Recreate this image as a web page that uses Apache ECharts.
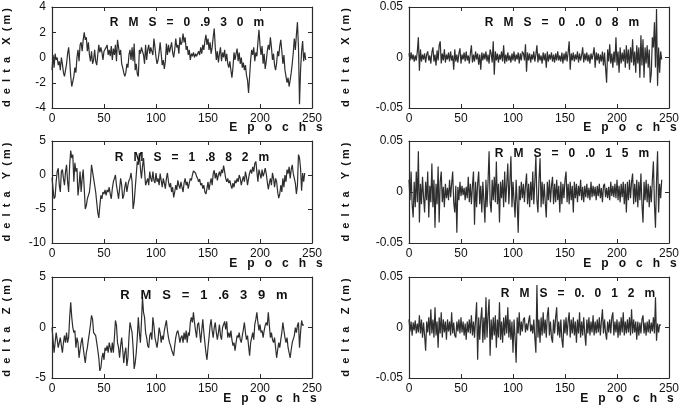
<!DOCTYPE html>
<html>
<head>
<meta charset="utf-8">
<script src="https://cdn.jsdelivr.net/npm/echarts@6/dist/echarts.min.js"></script>
<style>
html,body{margin:0;padding:0;background:#fff;}
#chart{width:684px;height:408px;}
</style>
</head>
<body>
<div id="chart"></div>
<script>
// ---- data, x = epoch index ----
const xTicks = [0, 50, 100, 150, 200, 250];

const dxLeft = [-1.0,0.2,-0.8,0.3,-0.2,0,-0.6,-0.3,-1.0,0,
-0.5,-1.2,-1.5,-1.4,-0.5,0.3,0.8,-0.2,-1.5,-2.3,
-2.2,-1.5,-0.8,-1.2,0,0.6,-0.3,1.0,1.2,0.5,
1.4,2.0,1.4,1.6,0.5,1.2,0.2,-0.3,0.5,-0.5,
-0.2,0.6,-0.3,-0.6,0.2,1.0,0.4,0.8,0.4,-0.2,
0.5,0.4,0.8,1.0,0.2,0.6,0.1,0.9,-0.2,0.7,
0.2,1.0,-0.3,1.4,0.8,0.2,0.6,-0.5,-0.8,-1.2,
-1.5,-1.2,-0.5,-0.8,0.2,0.6,-0.2,0.8,-0.3,1.1,
-1.0,-0.5,-1.3,-1.5,0.6,0.3,0.8,0.5,0.2,-0.5,
1.0,-0.2,0.6,1.0,0.3,0.8,0.5,0.2,1.5,0.8,
0.0,-0.5,-0.2,0.4,1.2,0.3,-0.6,-0.2,-0.9,-0.3,
1.1,0.2,1.0,0.4,0.8,1.2,0.4,0.0,0.6,1.5,
0.8,1.0,0.3,1.6,1.0,1.2,1.9,1.2,1.6,0.6,
0.9,0.2,0.6,-0.2,0.3,0.1,0.4,0.0,0.3,0.1,
0.2,0.5,0.2,0.8,0.3,1.0,0.6,1.3,1.8,1.0,
1.5,0.6,1.2,0.3,0.8,1.6,2.3,0.8,-0.2,0.5,
-0.4,0.3,0.8,-0.3,0.4,0.0,0.6,-0.3,0.3,-0.5,
-0.8,-0.3,-1.0,-1.6,-0.8,0.4,-0.2,0.3,0.7,-0.3,
0.4,-0.5,0.0,-0.8,-0.4,-1.0,-0.6,-1.4,-1.8,-2.8,
-1.5,-0.2,0.6,0.2,0.8,-0.3,0.4,0.1,1.2,2.2,
1.0,0.2,0.9,-0.5,0.3,-0.9,-0.3,0.5,1.0,0.6,
1.6,0.8,-0.2,0.3,-0.6,-1.0,-0.4,0.5,0.1,0.9,
1.4,0.5,-0.5,0.2,-1.0,-1.5,-2.0,-1.6,-2.3,-1.8,
-1.2,-0.5,0.4,1.5,0.6,1.8,2.8,0.8,-3.7,-1.0,
0.5,1.3,-0.3,0.4,-0.2];

const dxRight = [0.004,-0.003,0.005,-0.002,0.003,-0.004,0.002,-0.003,0.006,0.020,
-0.013,0.008,-0.004,0.003,-0.002,0.004,-0.005,0.003,0.006,-0.003,
0.002,-0.006,0.005,0.010,-0.004,0.003,-0.008,0.007,-0.003,0.012,
0.016,-0.006,0.004,-0.003,0.008,-0.005,0.003,-0.002,0.005,-0.004,
0.006,-0.003,0.002,-0.012,0.008,-0.004,0.003,-0.005,0.004,0.009,
-0.006,0.003,-0.002,0.005,-0.004,0.006,-0.003,0.002,-0.006,0.004,
0.012,-0.005,0.003,-0.004,0.006,-0.002,0.004,-0.007,0.003,-0.012,
0.005,-0.003,0.004,-0.002,0.006,-0.004,0.003,-0.006,0.008,0.004,
-0.005,0.016,-0.017,0.006,-0.003,0.004,-0.005,0.003,-0.002,0.006,
-0.004,0.012,-0.006,0.003,-0.004,0.005,-0.003,0.002,-0.005,0.004,
-0.003,0.006,-0.004,0.003,-0.002,0.005,-0.006,0.004,-0.003,0.006,
0.004,-0.003,0.013,-0.014,0.005,-0.003,0.004,-0.005,0.003,-0.002,
0.006,-0.004,0.003,0.012,-0.005,0.004,-0.003,0.002,-0.006,0.005,
-0.003,0.004,-0.010,0.006,-0.004,0.003,-0.002,0.005,-0.004,0.003,
-0.005,0.004,-0.003,0.006,-0.003,0.002,-0.004,0.005,-0.006,0.004,
-0.003,0.006,-0.004,0.005,0.016,-0.012,0.004,-0.003,0.005,-0.004,
0.003,-0.002,0.006,-0.005,0.004,-0.003,0.002,0.010,-0.005,0.004,
-0.003,0.005,-0.004,0.003,-0.006,0.004,-0.002,0.003,0.010,-0.010,
0.005,-0.003,0.004,-0.006,0.003,-0.004,0.006,-0.008,0.005,-0.010,
-0.025,0.008,-0.004,0.013,-0.006,0.004,-0.010,0.006,-0.005,0.020,
-0.008,0.006,-0.015,0.010,-0.006,0.005,-0.004,0.008,-0.010,0.012,
-0.006,0.008,-0.012,0.010,-0.005,0.018,-0.008,0.006,-0.015,0.012,
-0.006,0.010,-0.020,0.022,-0.008,0.018,-0.020,0.010,-0.006,0.012,
-0.010,0.008,-0.025,-0.015,0.020,0.010,0.035,-0.010,0.048,-0.028,
0.010,-0.015,0.006,-0.002];

const dyLeft = [-0.4,-2,-3.5,-3.2,-1,0.5,1.0,-1.5,-2.5,0.5,
0.8,-0.5,-1.5,0.5,1.5,-1,-2.5,1.5,3.6,2.5,
3.0,-1,1.8,0.5,1.0,-3,-1.5,0.5,-2.5,-0.5,
0.8,-2,-5,-4.5,-3.5,-3,-2.5,-1,1.5,0.5,
-0.5,-1.5,-2.5,-4,-5.5,-6.3,-4.5,-3,-3.5,-2.5,
-2.8,-2.2,-3,-2.2,-2.5,-1.8,-2.8,-3.5,-2,-1,
-0.5,0,-1.5,-2.5,-3.5,-2,-0.5,-1.5,-3.5,-3,
-1.8,-1,-2.5,-1.5,-0.8,-0.5,0.3,-1,-5,-4,
-2,0,2,1.5,3.2,1.0,-0.5,1.2,2.5,0.5,
-1.5,-1,-0.5,-1.5,0.5,-0.5,-1,0.5,-0.8,-1.2,
0.3,-1,-0.5,-1.5,0.2,-0.8,-1.8,-0.5,-1.2,-2,
-0.5,0.3,-1,-1.8,-1.2,-2.5,-1.8,-3.3,-2.5,-1.5,
-2.2,-0.8,-1.5,-2,-1,-1.8,-2.5,-1.2,-0.5,-1.5,
-1,-2,-1.2,-0.5,-0.8,0,0.6,0.5,0.3,-0.2,
-0.5,-1,-0.6,-1.5,-1.2,-2,-1.5,-2.5,-2.8,-2,
-1,-2.2,-1.2,-0.5,-1.5,0.2,0.7,-0.5,0.3,-0.8,
0,0.5,-0.2,0.8,0.3,1.4,0.5,-0.5,-1,-0.5,
-1.2,-0.8,-1.5,-2,-1.2,-1.8,-0.8,-1.2,-0.5,-1,
0,-0.5,-1.5,-0.8,-0.2,-1,0.5,-0.3,-1.5,-0.5,
0.3,0.8,0.2,1.2,0.5,1.7,2.0,0.5,-1,0.8,
1.0,-0.5,0.8,-0.2,0.3,1,0.2,-1,-2.1,-1.2,
-0.5,-1.5,0.3,-0.5,-1.8,-0.5,-1,-2.5,-3.4,-2.8,
-1.5,-2.5,-0.5,-1.8,0,-1,0.8,0.2,1.2,-0.5,
0.8,1.5,0.2,-0.5,-1.2,-2.8,-1.5,3.0,2.5,1.0,
-2.3,0.3,-1.0,0.3];

const dyRight = [0.012,-0.008,0.020,-0.012,-0.025,0.010,-0.015,0.020,-0.010,0.040,
-0.030,0.008,-0.012,0.015,-0.005,-0.020,0.010,-0.008,0.020,-0.025,
0.006,-0.010,0.028,-0.015,0.012,-0.035,0.008,-0.012,0.025,-0.030,
0.010,0.020,-0.010,0.005,-0.015,0.008,-0.006,0.004,-0.008,0.012,
-0.005,0.008,0.020,-0.010,-0.020,0.006,-0.040,0.005,-0.008,0.010,
-0.004,0.006,-0.003,0.004,-0.008,0.005,-0.006,0.015,-0.010,0.008,
-0.012,0.006,0.020,-0.032,0.010,-0.015,0.008,0.020,-0.012,0.006,
-0.020,0.010,-0.008,-0.030,0.012,-0.015,0.010,0.040,-0.010,-0.020,
0.012,-0.008,0.015,-0.010,0.030,-0.012,0.008,-0.030,0.010,-0.006,
0.012,-0.015,0.020,-0.010,0.008,0.028,-0.012,0.010,0.035,-0.015,
0.010,-0.008,-0.025,0.012,-0.010,-0.040,0.006,-0.008,0.010,-0.006,
0.008,-0.010,0.006,0.018,-0.012,0.008,-0.015,0.010,-0.008,0.020,
-0.012,0.010,0.035,-0.008,-0.020,0.012,0.033,-0.015,0.010,-0.012,
0.008,-0.010,-0.025,0.010,-0.008,0.012,-0.010,0.006,0.015,-0.012,
0.008,-0.010,0.012,-0.008,0.006,-0.020,0.010,-0.012,0.008,-0.006,
0.012,0.020,-0.010,0.008,-0.012,0.010,-0.008,0.006,-0.020,0.010,
-0.006,0.008,-0.010,0.006,-0.004,0.012,-0.008,0.005,-0.010,0.006,
-0.005,0.008,-0.006,0.004,-0.008,0.010,-0.005,0.006,-0.004,0.005,
-0.008,0.006,-0.004,0.008,-0.006,0.004,-0.010,0.006,0.008,-0.005,
0.004,-0.006,0.005,-0.008,0.010,-0.004,0.006,-0.005,0.008,-0.006,
0.012,-0.008,0.006,-0.010,0.008,-0.005,0.010,-0.012,0.008,-0.020,
0.010,-0.008,0.012,-0.006,0.010,0.018,-0.012,0.008,-0.010,0.012,
-0.015,0.010,-0.008,0.018,-0.012,-0.030,0.010,-0.008,0.012,-0.010,
0.008,-0.015,0.006,-0.010,0.012,0.030,-0.012,-0.035,0.010,0.040,
-0.020,0.008,-0.006,0.012];

const dzLeft = [0,-1.2,-2.5,-1.5,-0.5,-1.2,-2,-1.5,-1,-1.8,
-2.5,-1.5,-0.8,-1.5,-0.5,-1.5,-1,1.0,2.5,1.0,
0,-0.5,-0.3,-2,-1,-1.5,-3,-2.2,-1.5,-1,
-2,-2.8,-3.5,-2.5,-2,-1.2,-0.5,0.3,1.2,0.8,
-0.5,-0.6,-0.8,-1.5,-2.2,-3,-4.3,-4.0,-3,-2.5,
-3.2,-2,-2.3,-1.8,-2.5,-1.5,-2,-2.5,-1.5,-2.5,
-1,0.7,0.2,-1.5,-2,-3,-1.8,-1,-2.2,-3.5,
-2.5,-2,-3.8,-3,-1,0.5,0,-0.5,-2,-4.1,
-3.5,-2.5,-1,1,-0.5,-1.5,0.5,3.0,1.5,1.0,
-0.5,-1,-1.8,-2,-0.8,-0.5,-1.2,1.0,0.2,-1,
-1.5,-2,-1.2,0,-0.5,-1.5,-0.8,-1.2,-0.3,0.2,
0.7,-0.3,-1,-1.5,-1.8,-2.2,-2.5,-2.8,-1.8,-1,
-0.5,-0.3,-0.8,-1.5,-1,-0.8,-1.5,-0.5,-1.2,-0.3,
-1.5,-0.5,-0.8,0.5,1.0,0.5,1.5,0.5,-0.3,-1,
0.3,0.5,-0.5,-1.5,-0.3,0.8,-0.5,-1.5,-2.5,-3.2,
-2,-1,0.2,0.8,-0.3,-1,0,0.5,-0.5,-1.2,
-0.5,0.3,-0.8,-1.2,0,0.3,0.6,-0.2,0.6,-1,
-0.5,-1,-0.3,-1.2,-1.8,-1.5,-2.3,-1.5,-0.8,-1,
-0.5,-1.2,-1.5,-0.8,-0.2,0.5,-0.5,-1.2,-0.8,-1.8,
-2.8,-1.5,-1,-0.5,-1.2,0.3,0.8,1.5,0.5,-0.3,
0.3,-0.5,-0.3,-1,-0.3,0.2,0.5,0.2,1.5,0.2,
-1,-0.5,-1.2,-1.5,-1,-2,-3,-2.2,-1.5,-2,
-1.2,-0.5,0.5,-0.3,-1,-1.5,-1,-2,-2.5,-3,
-2.2,-1.5,-1.5,-0.8,0,-0.5,0.2,0.5,-2,-0.5,
0.7,0.2,0.3];

const dzRight = [0.008,-0.004,0.006,-0.008,0.005,-0.003,0.007,-0.006,0.004,-0.005,
0.012,-0.006,0.008,-0.010,0.005,-0.008,-0.023,0.006,-0.005,0.010,
-0.008,0.018,-0.006,0.008,-0.010,0.020,-0.008,0.006,-0.020,0.010,
-0.006,0.015,-0.010,0.008,-0.005,0.006,-0.012,0.008,-0.004,0.006,
-0.008,0.015,-0.006,0.005,-0.008,-0.010,0.006,-0.004,0.008,-0.006,
0.010,-0.005,0.006,-0.008,0.004,-0.012,0.006,-0.005,0.008,-0.006,
0.012,-0.008,0.006,-0.010,0.008,0.025,-0.032,0.010,-0.012,0.008,
0.020,-0.015,0.010,-0.012,0.030,-0.010,0.012,0.028,-0.028,0.008,
-0.012,0.010,-0.008,0.012,-0.020,0.008,-0.010,0.025,-0.012,0.006,
-0.015,0.010,-0.008,0.012,-0.006,0.020,-0.010,0.008,-0.012,0.006,
-0.025,0.008,-0.010,-0.035,0.010,-0.006,0.015,-0.008,0.006,-0.004,
0.008,0.010,-0.005,0.004,-0.003,0.006,0.012,-0.004,0.003,-0.006,
0.008,-0.010,-0.025,0.042,-0.010,0.008,-0.015,0.010,-0.008,0.015,
-0.006,0.008,-0.010,0.012,0.020,-0.008,0.006,-0.010,-0.015,0.008,
-0.006,0.010,0.020,-0.008,0.006,-0.010,0.008,-0.012,-0.020,0.008,
-0.006,0.010,-0.008,0.006,0.015,-0.010,0.008,-0.006,0.010,-0.008,
0.006,-0.015,0.008,-0.006,0.015,-0.010,0.006,-0.008,0.010,-0.006,
-0.018,0.008,-0.006,0.010,-0.008,0.006,-0.005,0.012,-0.008,0.006,
-0.006,0.008,-0.005,0.010,-0.008,0.006,0.018,-0.006,0.008,-0.005,
-0.012,0.006,-0.005,0.008,-0.006,0.010,0.015,-0.008,0.006,-0.005,
0.008,-0.010,0.006,-0.008,0.010,-0.005,0.015,-0.008,0.006,-0.006,
0.008,-0.005,0.010,-0.008,0.018,-0.006,0.008,-0.005,0.006,-0.012,
0.006,-0.008,0.005,-0.006,0.008,0.012,-0.006,0.005,-0.008,0.006,
-0.005,0.008,-0.006,0.005,-0.004,0.010,-0.006,0.030,-0.013,0.004,
-0.005,0.003,0.002];

const seriesData = [dxLeft, dxRight, dyLeft, dyRight, dzLeft, dzRight];
const yNames = ['d  e  l  t  a    X  ( m )', 'd  e  l  t  a    X  ( m )',
                'd  e  l  t  a    Y  ( m )', 'd  e  l  t  a    Y  ( m )',
                'd  e  l  t  a    Z  ( m )', 'd  e  l  t  a    Z  ( m )'];
const rmsTexts = ['R   M   S   =   0   .9   3   0   m',
                  'R   M   S   =   0   .0   0   8   m',
                  'R   M   S   =   1   .8   8   2   m',
                  'R   M   S   =   0   .0   1   5   m',
                  'R   M   S   =   1   .6   3   9   m',
                  'R   M   S   =   0.   0   1   2   m'];
const xName = 'E   p   o   c   h   s';
const yRanges = [[-4, 4, 2], [-0.05, 0.05, 0.05], [-10, 5, 5], [-0.05, 0.05, 0.05], [-5, 5, 5], [-0.05, 0.05, 0.05]];

// ---- layout ----
const grids = [
  {left: 52, top: 7, width: 260, height: 101},
  {left: 409, top: 7, width: 260, height: 101},
  {left: 52, top: 141, width: 260, height: 102},
  {left: 409, top: 141, width: 260, height: 102},
  {left: 52, top: 277, width: 260, height: 101},
  {left: 409, top: 277, width: 260, height: 101}
];
const rmsPos = [[187, 23, 12], [562, 23, 12], [192, 158, 12], [572, 154, 12], [204, 295, 13], [578, 294, 12]];
const xNamePos = [[276, 128], [630, 128], [276, 264], [630, 264], [270, 399], [627, 399]];
const yNameX = [7, 346, 7, 346, 7, 346];

const FONT = '"Liberation Sans", Arial, sans-serif';
const axisColor = '#2a2a2a';

const option = {
  animation: false,
  backgroundColor: '#fff',
  grid: grids.map(g => Object.assign({containLabel: false}, g)),
  xAxis: [], yAxis: [], series: [], graphic: []
};

grids.forEach((g, p) => {
  const lineStyle = {color: axisColor, width: 1.2};
  const xBase = {
    type: 'value', gridIndex: p, min: xTicks[0], max: xTicks[xTicks.length - 1], interval: 50,
    splitLine: {show: false},
    axisLine: {show: true, onZero: false, lineStyle},
    axisTick: {show: true, inside: true, length: 4, lineStyle: {color: axisColor, width: 1}}
  };
  option.xAxis.push(Object.assign({}, xBase, {
    position: 'bottom',
    axisLabel: {show: true, margin: 5, fontSize: 12, color: '#111', fontFamily: FONT}
  }));
  option.xAxis.push(Object.assign({}, xBase, {position: 'top', axisLabel: {show: false}}));
  const r = yRanges[p];
  const yBase = {
    type: 'value', gridIndex: p, min: r[0], max: r[1], interval: r[2],
    splitLine: {show: false},
    axisLine: {show: true, onZero: false, lineStyle},
    axisTick: {show: true, inside: true, length: 4, lineStyle: {color: axisColor, width: 1}}
  };
  option.yAxis.push(Object.assign({}, yBase, {
    position: 'left',
    axisLabel: {show: true, margin: 6, fontSize: 12, color: '#111', fontFamily: FONT}
  }));
  option.yAxis.push(Object.assign({}, yBase, {position: 'right', axisLabel: {show: false}}));

  option.series.push({
    type: 'line', xAxisIndex: 2 * p, yAxisIndex: 2 * p,
    data: seriesData[p].map((v, i) => [i, v]),
    showSymbol: false, symbol: 'none',
    lineStyle: {color: '#2e2e2e', width: 1.2},
    silent: true
  });

  option.graphic.push({
    type: 'text', x: rmsPos[p][0], y: rmsPos[p][1], z: 100,
    style: {text: rmsTexts[p], font: 'bold ' + rmsPos[p][2] + 'px ' + FONT, fill: '#111',
            textAlign: 'center', textVerticalAlign: 'middle', verticalAlign: 'middle'}
  });
  option.graphic.push({
    type: 'text', x: xNamePos[p][0], y: xNamePos[p][1],
    style: {text: xName, font: 'bold 12px ' + FONT, fill: '#111',
            textAlign: 'center', textVerticalAlign: 'middle', verticalAlign: 'middle'}
  });
  option.graphic.push({
    type: 'text', x: yNameX[p], y: g.top + g.height / 2, rotation: Math.PI / 2,
    style: {text: yNames[p], font: 'bold 11px ' + FONT, fill: '#111',
            textAlign: 'center', textVerticalAlign: 'middle', verticalAlign: 'middle'}
  });
});

const chart = echarts.init(document.getElementById('chart'), null, {renderer: 'canvas'});
chart.setOption(option);
</script>
</body>
</html>
